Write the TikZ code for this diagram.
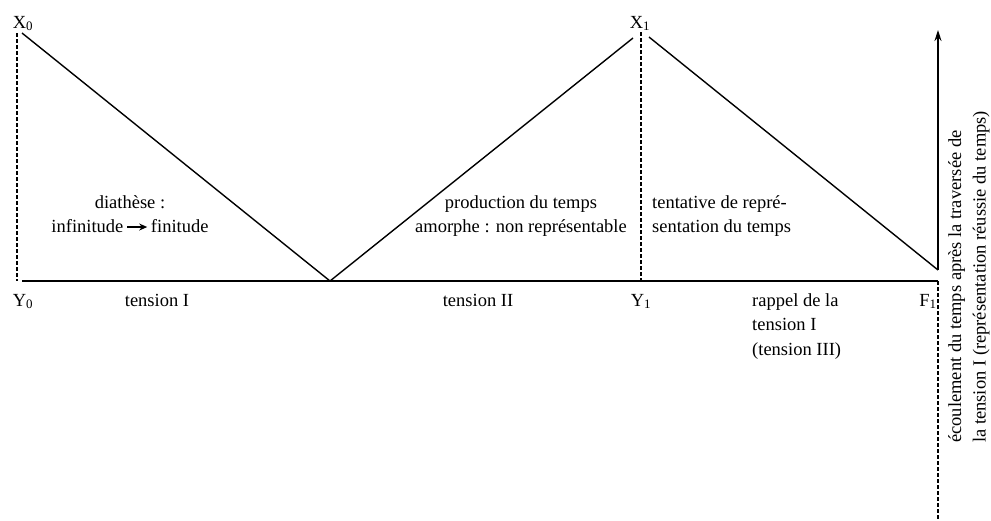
\documentclass[tikz,border=0pt]{standalone}
\usepackage{fontspec}
\setmainfont{Liberation Serif}
\usetikzlibrary{arrows}
\usetikzlibrary{arrows.meta}
\tikzset{
	txt/.style = {
		inner sep=0pt,
		font=\fontsize{18.5}{24.5}\selectfont
	},
	txt_c/.style = {
		txt,
		align=center,
		anchor=north
	},
	txt_l/.style = {
		txt,
		align=left,
		anchor=north west
	},
	pt_lbl/.style = {
		txt,
		anchor=base
	},
	stroke/.style = {
		line width=1.4pt
	},
	guide/.style = {
		line width=1.3pt,
		dash pattern=on 3.5pt off 2.5pt
	},
}
\newcommand{\smallarrow}{\tikz[baseline=-0.3em]\draw[-{Stealth[length=8pt,width=7pt]}, line width=1.4pt] (0,0) -- (20pt,0);}

\begin{document}
\begin{tikzpicture}[x=1pt,y=-1pt,>={Stealth[length=11pt,width=7pt]}]
\useasboundingbox (0,0) rectangle (991,520);
% points of the zigzag
\coordinate (a0) at (22,33);
\coordinate (v0) at (330,281);
\coordinate (a1l) at (633,38);
\coordinate (a1r) at (649,37);
\coordinate (f1top) at (938,270);
\coordinate (tip) at (938,30);
% baseline and guides
\coordinate (b0) at (22,281);
\coordinate (b1) at (938,281);
\coordinate (bend) at (938,520);
\coordinate (x0d) at (17,33);
\coordinate (y0d) at (17,281);
\coordinate (x1d) at (641,32);
\coordinate (y1d) at (641,281);

\draw [stroke] (a0) -- (v0) -- (a1l);
\draw [stroke] (a1r) -- (f1top);
\draw [stroke,->] (f1top) -- (tip);
\draw [stroke] (b0) -- (b1);
\draw [guide] (x0d) -- (y0d);
\draw [guide] (x1d) -- (y1d);
\draw [guide] (b1) -- (bend);

% point labels
\node [pt_lbl] (x0) at (23,28) {X\textsubscript{0}};
\node [pt_lbl] (x1) at (640,28) {X\textsubscript{1}};
\node [pt_lbl] (y0) at (23,306) {Y\textsubscript{0}};
\node [pt_lbl] (y1) at (641,306) {Y\textsubscript{1}};
\node [pt_lbl] (f1) at (928,306) {F\textsubscript{1}};

% tensions
\node [pt_lbl] (t1) at (157,306) {tension I};
\node [pt_lbl] (t2) at (478,306) {tension II};
\node [txt_l] (t3) at (752,293) {rappel de la\\tension I\\(tension III)};

% zones
\node [txt_c] (diath) at (130,195) {diathèse :\\infinitude\,\smallarrow\,finitude};
\node [txt_c] (prod) at (521,195) {production du temps\\amorphe : non représentable};
\node [txt_l] (tent) at (652,195) {tentative de repré-\\sentation du temps};

% time axis
\node [txt_l, rotate=90] (flow) at (948,443) {écoulement du temps après la traversée de\\la tension I (représentation réussie du temps)};
\end{tikzpicture}
\end{document}
